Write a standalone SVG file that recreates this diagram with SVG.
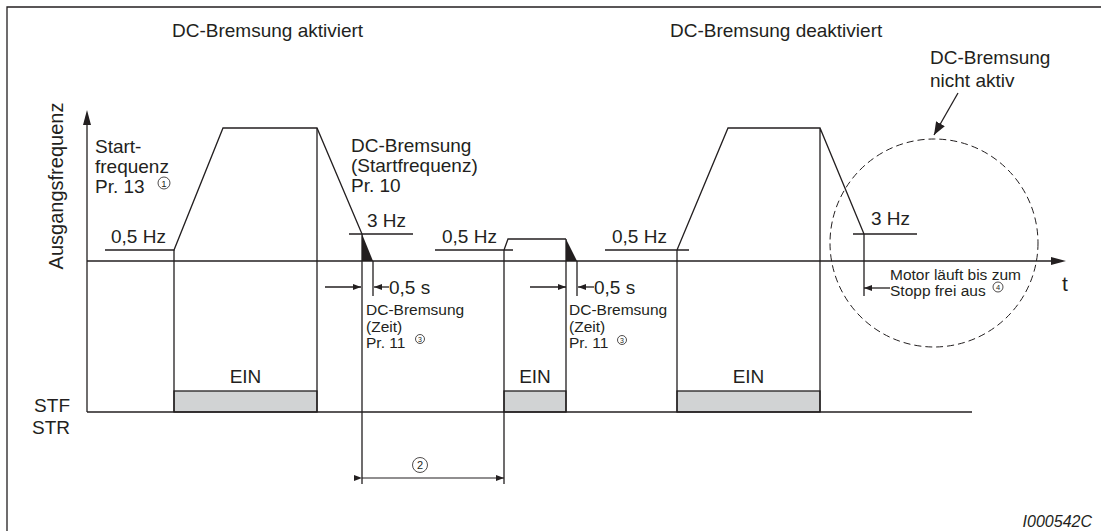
<svg xmlns="http://www.w3.org/2000/svg" width="1101" height="531" viewBox="0 0 1101 531">
<style>
.l{stroke:#231f20;stroke-width:1.3;fill:none}
.t{font-family:"Liberation Sans",Arial,sans-serif;fill:#231f20}
.big{font-size:19px}
.sm{font-size:15.5px}
.c{fill:#fff;stroke:#231f20;stroke-width:0.8}
.cn{font-family:"Liberation Sans",Arial,sans-serif;fill:#231f20;text-anchor:middle}
.bar{fill:#d1d3d4;stroke:#231f20;stroke-width:1.3}
.blk{fill:#231f20;stroke:none}
</style>
<defs>
<marker id="ah" markerWidth="8" markerHeight="6" refX="8" refY="3" orient="auto" markerUnits="userSpaceOnUse"><path d="M0,0 L8,3 L0,6 z" fill="#231f20"/></marker>
<marker id="ahb" markerWidth="13" markerHeight="10" refX="13" refY="5" orient="auto" markerUnits="userSpaceOnUse"><path d="M0,0 L13,5 L0,10 z" fill="#231f20"/></marker>
</defs>
<rect width="1101" height="531" fill="#fff"/>
<g id="frame"><path class="l" d="M7,531 V7 H1101"/></g>

<g id="axes">
<path class="l" d="M87,122 V412"/>
<polygon class="blk" points="87,110 83,125 91,125"/>
<path class="l" d="M87,261 H1052"/>
<polygon class="blk" points="1066,261 1051,257 1051,265"/>
<text class="t" font-size="20" transform="translate(63,186) rotate(-90)" text-anchor="middle">Ausgangsfrequenz</text>
<text class="t" x="1062" y="291" font-size="21">t</text>
</g>

<g id="pulse1">
<rect class="bar" x="174" y="391" width="143" height="21"/>
<path class="l" d="M105,250 H174 L223,128 H317 L362,234"/>
<path class="l" d="M174,250 V412 M317,128 V412 M349,234 H413 M362,234 V484 M373,261 V296"/>
<polygon class="blk" points="362,234 362,261 373,261"/>
<text class="t big" x="111" y="243">0,5 Hz</text>
<text class="t big" x="367" y="227">3 Hz</text>
<text class="t big" x="95" y="153">Start-</text>
<text class="t big" x="95" y="173">frequenz</text>
<text class="t big" x="95" y="193">Pr. 13</text>
<circle class="c" cx="164" cy="183" r="6"/>
<text class="cn" x="164" y="186.5" font-size="9.5">1</text>
<text class="t big" x="351" y="152">DC-Bremsung</text>
<text class="t big" x="351" y="172">(Startfrequenz)</text>
<text class="t big" x="351" y="192">Pr. 10</text>
<text class="t big" x="245.5" y="383" text-anchor="middle">EIN</text>
</g>

<g id="pulse2">
<rect class="bar" x="504" y="391" width="62" height="21"/>
<path class="l" d="M435,250 H513 M504,250 L508,239 H566 M504,250 V484 M566,239 V412 M577,261 V296"/>
<polygon class="blk" points="566,239 566,261 577,261"/>
<text class="t big" x="442" y="243">0,5 Hz</text>
<text class="t big" x="535" y="383" text-anchor="middle">EIN</text>
</g>

<g id="pulse3">
<rect class="bar" x="677" y="391" width="143" height="21"/>
<path class="l" d="M605,250 H689 M677,250 L728,128 H820 L864,234 M677,250 V412 M820,128 V412 M853,234 H917 M864,234 V296"/>
<text class="t big" x="612" y="243">0,5 Hz</text>
<text class="t big" x="871" y="225">3 Hz</text>
<text class="t big" x="748.5" y="383" text-anchor="middle">EIN</text>
</g>

<g id="stf">
<path class="l" d="M87,412 H972"/>
<text class="t big" x="70" y="412" text-anchor="end">STF</text>
<text class="t big" x="70" y="434" text-anchor="end">STR</text>
</g>

<g id="connectors">
<path class="l" d="M325,287 H361" marker-end="url(#ah)"/>
<path class="l" d="M389,287 H374" marker-end="url(#ah)"/>
<path class="l" d="M530,287 H566" marker-end="url(#ah)"/>
<path class="l" d="M594,287 H578" marker-end="url(#ah)"/>
<path class="l" d="M362,478 H504" marker-start="url(#ah)" marker-end="url(#ah)" style="stroke-width:1.1"/>
<path class="l" d="M890,288 H864" marker-end="url(#ah)"/>
<path class="l" d="M958,93 L934,135" marker-end="url(#ahb)"/>
</g>

<g id="labels">
<text class="t big" x="389" y="294">0,5 s</text>
<text class="t sm" x="366" y="315">DC-Bremsung</text>
<text class="t sm" x="366" y="332">(Zeit)</text>
<text class="t sm" x="366" y="348">Pr. 11</text>
<circle class="c" cx="420" cy="339" r="4.5"/>
<text class="cn" x="420" y="341.7" font-size="7">3</text>

<text class="t big" x="594" y="294">0,5 s</text>
<text class="t sm" x="569" y="315">DC-Bremsung</text>
<text class="t sm" x="569" y="332">(Zeit)</text>
<text class="t sm" x="569" y="348">Pr. 11</text>
<circle class="c" cx="622" cy="340" r="4.5"/>
<text class="cn" x="622" y="342.7" font-size="7">3</text>

<circle class="c" cx="420" cy="465" r="7.5"/>
<text class="cn" x="420" y="469" font-size="11">2</text>

<text class="t sm" x="890" y="280">Motor läuft bis zum</text>
<text class="t sm" x="890" y="296">Stopp frei aus</text>
<circle class="c" cx="998" cy="287" r="5"/>
<text class="cn" x="998" y="290" font-size="7.5">4</text>

<text class="t big" x="172" y="37">DC-Bremsung aktiviert</text>
<text class="t big" x="670" y="37">DC-Bremsung deaktiviert</text>
<text class="t big" x="930" y="64">DC-Bremsung</text>
<text class="t big" x="930" y="87">nicht aktiv</text>
<text class="t" x="1092" y="527" font-size="16" font-style="italic" text-anchor="end">I000542C</text>
</g>

<g id="circle-nicht-aktiv">
<circle cx="934" cy="243" r="104" fill="none" stroke="#231f20" stroke-width="1" stroke-dasharray="7 4"/>
</g>
</svg>
